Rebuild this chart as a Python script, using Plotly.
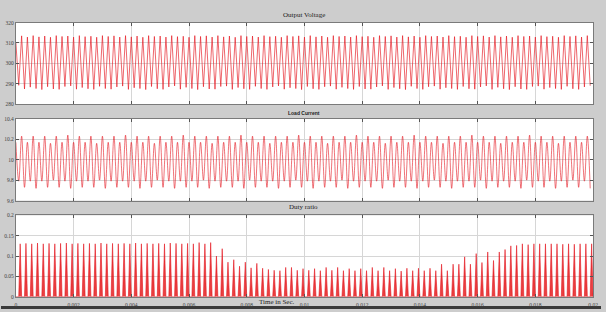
import numpy as np
import plotly.graph_objects as go

# ---------------- data ----------------
x_ticks = [0, 0.002, 0.004, 0.006, 0.008, 0.01, 0.012, 0.014, 0.016, 0.018, 0.02]
x_ticklabels = ["0", "0.002", "0.004", "0.006", "0.008", "0.01", "0.012", "0.014", "0.016", "0.018", "0.02"]

v_ticks = [280, 290, 300, 310, 320]
i_ticks = [9.6, 9.8, 10.0, 10.2, 10.4]
i_ticklabels = ["9.6", "9.8", "10", "10.2", "10.4"]
d_ticks = [0, 0.05, 0.1, 0.15, 0.2]
d_ticklabels = ["0", "0.05", "0.1", "0.15", "0.2"]

# Output voltage: start value, then alternating trough / peak every half period
v_start = 310.3
v_trough = [
    289.2, 287.4, 288.3, 287.6, 287.1, 288.5, 287.4, 287.2, 288.6, 288.9,
    287.3, 288.1, 287.5, 287.2, 288.7, 287.6, 287.3, 288.4, 288.8, 287.2,
    288.0, 287.6, 287.1, 288.6, 287.5, 287.2, 288.4, 288.9, 287.3, 288.2,
    287.6, 287.1, 288.5, 287.4, 287.3, 288.6, 288.8, 287.2, 288.1, 287.5,
    287.2, 288.7, 287.6, 287.2, 288.4, 288.9, 287.3, 288.0, 287.6, 287.1,
    288.6, 287.5, 287.2, 288.5, 288.8, 287.3, 288.2, 287.6, 287.2, 288.6,
    287.4, 287.3, 288.4, 288.9, 287.2, 288.1, 287.5, 287.1, 288.7, 287.6,
    287.2, 288.5, 288.8, 287.3, 288.0, 287.6, 287.2, 288.6, 287.5, 287.3,
    288.4, 288.9, 287.2, 288.2, 287.5, 287.1, 288.5, 287.4, 287.2, 288.6,
    288.8, 287.3, 288.1, 287.6, 287.2, 288.7, 287.5, 287.2, 288.4, 289.0,
]
v_peak = [
    313.5, 312.9, 313.6, 313.0, 313.4, 312.8, 313.6, 313.2, 313.4, 312.9,
    313.6, 313.1, 313.3, 312.8, 313.6, 313.2, 313.5, 312.9, 313.6, 313.0,
    313.4, 312.8, 313.6, 313.2, 313.4, 312.9, 313.6, 313.1, 313.3, 312.8,
    313.6, 313.2, 313.5, 312.9, 313.6, 313.0, 313.4, 312.8, 313.6, 313.2,
    313.4, 312.9, 313.6, 313.1, 313.3, 312.8, 313.6, 313.2, 313.5, 312.9,
    313.6, 313.0, 313.4, 312.8, 313.6, 313.2, 313.4, 312.9, 313.6, 313.1,
    313.3, 312.8, 313.6, 313.2, 313.5, 312.9, 313.6, 313.0, 313.4, 312.8,
    313.6, 313.2, 313.4, 312.9, 313.6, 313.1, 313.3, 312.8, 313.6, 313.2,
    313.5, 312.9, 313.6, 313.0, 313.4, 312.8, 313.6, 313.2, 313.4, 312.9,
    313.6, 313.1, 313.3, 312.8, 313.6, 313.2, 313.5, 312.9, 313.6,
]

# Load current: peaks (every period) and troughs (between them)
i_peak = [
    10.17, 10.23, 10.17, 10.23, 10.17, 10.23, 10.16, 10.23, 10.17, 10.24,
    10.17, 10.23, 10.17, 10.23, 10.16, 10.23, 10.17, 10.23, 10.17, 10.24,
    10.17, 10.23, 10.17, 10.23, 10.16, 10.23, 10.17, 10.23, 10.17, 10.24,
    10.17, 10.23, 10.17, 10.23, 10.16, 10.23, 10.17, 10.23, 10.17, 10.24,
    10.17, 10.23, 10.17, 10.23, 10.16, 10.23, 10.17, 10.23, 10.17, 10.24,
    10.17, 10.23, 10.17, 10.23, 10.16, 10.23, 10.17, 10.23, 10.17, 10.24,
    10.17, 10.23, 10.17, 10.23, 10.16, 10.23, 10.17, 10.23, 10.17, 10.24,
    10.17, 10.23, 10.17, 10.23, 10.16, 10.23, 10.17, 10.23, 10.17, 10.24,
    10.17, 10.23, 10.17, 10.23, 10.16, 10.23, 10.17, 10.23, 10.17, 10.24,
    10.17, 10.23, 10.17, 10.23, 10.16, 10.23, 10.17, 10.23, 10.17, 10.23,
]
i_trough = [
    9.79, 9.73, 9.79, 9.72, 9.79, 9.73, 9.80, 9.73, 9.79, 9.72,
    9.79, 9.73, 9.79, 9.73, 9.80, 9.72, 9.79, 9.73, 9.79, 9.73,
    9.79, 9.72, 9.79, 9.73, 9.80, 9.73, 9.79, 9.72, 9.79, 9.73,
    9.79, 9.73, 9.80, 9.72, 9.79, 9.73, 9.79, 9.73, 9.79, 9.72,
    9.80, 9.73, 9.79, 9.73, 9.79, 9.72, 9.79, 9.73, 9.80, 9.73,
    9.79, 9.72, 9.79, 9.73, 9.79, 9.73, 9.80, 9.72, 9.79, 9.73,
    9.79, 9.73, 9.79, 9.72, 9.80, 9.73, 9.79, 9.73, 9.79, 9.72,
    9.79, 9.73, 9.80, 9.73, 9.79, 9.72, 9.79, 9.73, 9.79, 9.73,
    9.80, 9.72, 9.79, 9.73, 9.79, 9.73, 9.79, 9.72, 9.80, 9.73,
    9.79, 9.73, 9.79, 9.72, 9.79, 9.73, 9.80, 9.73, 9.79, 9.72,
]

# Duty ratio: peak of each switching pulse
d_peak = [
    0.130, 0.131, 0.130, 0.132, 0.130, 0.131, 0.130, 0.131, 0.132, 0.130,
    0.131, 0.130, 0.131, 0.130, 0.132, 0.130, 0.131, 0.130, 0.131, 0.130,
    0.132, 0.130, 0.131, 0.130, 0.131, 0.130, 0.132, 0.131, 0.130, 0.131,
    0.130, 0.133, 0.130, 0.133, 0.100, 0.118, 0.085, 0.091, 0.075, 0.085,
    0.071, 0.082, 0.070, 0.067, 0.065, 0.064, 0.072, 0.072, 0.065, 0.069,
    0.065, 0.069, 0.064, 0.072, 0.065, 0.072, 0.064, 0.069, 0.064, 0.069,
    0.064, 0.072, 0.064, 0.072, 0.064, 0.069, 0.063, 0.070, 0.064, 0.070,
    0.064, 0.070, 0.064, 0.080, 0.064, 0.080, 0.080, 0.098, 0.080, 0.106,
    0.084, 0.110, 0.089, 0.110, 0.116, 0.125, 0.126, 0.130, 0.128, 0.130,
    0.130, 0.130, 0.130, 0.130, 0.129, 0.130, 0.129, 0.130, 0.130, 0.130,
]

# ---------------- build traces ----------------
PERIOD = 0.0002
HALF = PERIOD / 2

v_t = [0.0]
v_y = [v_start]
for k in range(len(v_trough)):
    v_t.append(k * PERIOD + HALF)
    v_y.append(v_trough[k])
    if k < len(v_peak):
        v_t.append((k + 1) * PERIOD)
        v_y.append(v_peak[k])

i_t, i_y = [], []
for k in range(len(i_peak)):
    i_t.append(k * PERIOD)
    i_y.append(i_peak[k])
    i_t.append(k * PERIOD + HALF)
    i_y.append(i_trough[k])

W = 0.00005
OFFSET = 0.00015
d_t, d_y = [0.0], [0.0]
for k, p in enumerate(d_peak):
    c = OFFSET + k * PERIOD
    d_t += [c - W, c, min(c + W, 0.02)]
    d_y += [0.0, p, 0.0]

RED = "rgb(228,20,30)"

fig = go.Figure()
fig.add_trace(go.Scatter(x=v_t, y=v_y, mode="lines", line=dict(color=RED, width=0.65),
                         xaxis="x", yaxis="y", showlegend=False, hoverinfo="skip"))
fig.add_trace(go.Scatter(x=i_t, y=i_y, mode="lines", line=dict(color=RED, width=0.6, shape="spline", smoothing=1.0),
                         xaxis="x2", yaxis="y2", showlegend=False, hoverinfo="skip"))
fig.add_trace(go.Scatter(x=d_t, y=d_y, mode="lines", line=dict(color=RED, width=0.6),
                         fill="tozeroy", fillcolor="rgba(225,0,0,0.75)",
                         xaxis="x3", yaxis="y3", showlegend=False, hoverinfo="skip"))

W_PX, H_PX = 606, 312
def px_x(x):
    return x / W_PX
def px_y(y):
    return 1 - y / H_PX

xdom = [px_x(15), px_x(598)]
panels = [(20, 103), (118, 201.5), (216.5, 299.5)]

tickfont = dict(family="Liberation Serif", size=5.5, color="#444444")
common_x = dict(range=[0, 0.02], tickvals=x_ticks, ticktext=x_ticklabels, showgrid=True,
                gridcolor="#d6d6d6", gridwidth=1, showline=True, linecolor="#7a7a7a", linewidth=1,
                mirror="ticks", ticks="inside", ticklen=3, tickcolor="#555555", zeroline=False,
                domain=xdom, tickfont=tickfont, fixedrange=True, ticklabelstandoff=3)
common_y = dict(showgrid=True, gridcolor="#d6d6d6", gridwidth=1, showline=True, linecolor="#7a7a7a",
                linewidth=1, mirror="ticks", ticks="inside", ticklen=3, tickcolor="#555555",
                zeroline=False, tickfont=tickfont, fixedrange=True)

def ann(text, x, y, family, size):
    return dict(text=text, x=px_x(x), y=px_y(y), xref="paper", yref="paper",
                xanchor="center", yanchor="middle", showarrow=False,
                font=dict(family=family, size=size, color="#222222"))

layout = dict(
    width=W_PX, height=H_PX, margin=dict(l=0, r=0, t=0, b=0),
    paper_bgcolor="#cdcdcd", plot_bgcolor="#ffffff",
    xaxis=dict(common_x, anchor="y", showticklabels=False),
    xaxis2=dict(common_x, anchor="y2", showticklabels=False),
    xaxis3=dict(common_x, anchor="y3", showticklabels=True),
    yaxis=dict(common_y, range=[280, 320], tickvals=v_ticks,
               domain=[px_y(panels[0][1]), px_y(panels[0][0])], anchor="x"),
    yaxis2=dict(common_y, range=[9.6, 10.4], tickvals=i_ticks, ticktext=i_ticklabels,
                domain=[px_y(panels[1][1]), px_y(panels[1][0])], anchor="x2"),
    yaxis3=dict(common_y, range=[0, 0.2], tickvals=d_ticks, ticktext=d_ticklabels,
                domain=[px_y(panels[2][1]), px_y(panels[2][0])], anchor="x3"),
    shapes=[dict(type="rect", xref="paper", yref="paper", x0=0, x1=1, y0=0, y1=px_y(309),
                 fillcolor="#3a3a3a", line=dict(width=0), layer="below")],
    annotations=[
        ann("Output Voltage", 306, 12, "Liberation Serif", 7),
        ann("<b>Load Current</b>", 306, 112, "Liberation Sans", 5),
        ann("Duty ratio", 306, 208.5, "Liberation Serif", 7),
        ann("Time in Sec.", 279, 304.5, "Liberation Serif", 7),
    ],
)
fig.update_layout(**layout)
fig.write_html("out.html")
